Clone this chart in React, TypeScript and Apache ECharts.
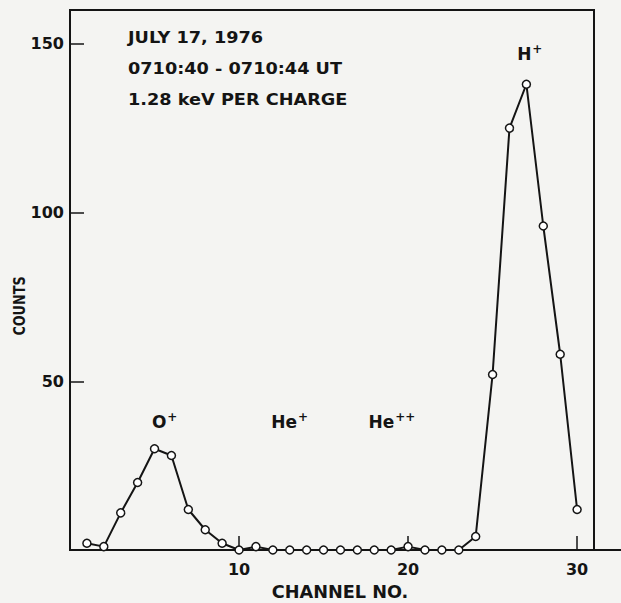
import React, { useEffect, useRef } from "react";
import * as echarts from "echarts";

const channels = [1, 2, 3, 4, 5, 6, 7, 8, 9, 10, 11, 12, 13, 14, 15, 16, 17, 18, 19, 20, 21, 22, 23, 24, 25, 26, 27, 28, 29, 30];
const counts = [2, 1, 11, 20, 30, 28, 12, 6, 2, 0, 1, 0, 0, 0, 0, 0, 0, 0, 0, 1, 0, 0, 0, 4, 52, 125, 138, 96, 58, 12];

const ionBase = ["O", "He", "He", "H"];
const ionCharge = ["+", "+", "++", "+"];
const ionChannel = [5.6, 13.0, 19.05, 27.2];
const ionCount = [38, 38, 38, 147];

const infoLines = ["JULY 17, 1976", "0710:40 - 0710:44 UT", "1.28 keV PER CHARGE"];
const xTickValues = [10, 20, 30];
const yTickValues = [50, 100, 150];

const FONT = "DejaVu Sans";
const INK = "#141414";

export default function App() {
  const ref = useRef<HTMLDivElement>(null);

  useEffect(() => {
    if (!ref.current) return;
    const chart = echarts.init(ref.current, undefined, { renderer: "svg" });

    const lineData = channels.map((c, i) => [c, counts[i]]);
    const labelData = ionBase.map((n, i) => ({
      name: `{b|${n}}{s|${ionCharge[i]}}`,
      value: [ionChannel[i], ionCount[i]],
    }));

    chart.setOption({
      animation: false,
      backgroundColor: "#f4f4f2",
      grid: {
        left: 70,
        right: 27,
        top: 10,
        bottom: 53,
        show: true,
        borderColor: INK,
        borderWidth: 2,
        backgroundColor: "transparent",
      },
      xAxis: {
        type: "value",
        min: 0,
        max: 31,
        interval: 10,
        splitLine: { show: false },
        axisLine: { show: true, lineStyle: { color: INK, width: 2 } },
        axisTick: { show: true, inside: true, length: 14, lineStyle: { color: INK, width: 1.5 } },
        axisLabel: {
          show: true,
          margin: 11,
          fontFamily: FONT,
          fontWeight: "bold",
          fontSize: 16,
          color: INK,
          formatter: (v: number) => (xTickValues.includes(v) ? String(v) : ""),
        },
      },
      yAxis: {
        type: "value",
        min: 0,
        max: 160,
        interval: 50,
        splitLine: { show: false },
        axisLine: { show: true, lineStyle: { color: INK, width: 2 } },
        axisTick: { show: true, inside: true, length: 14, lineStyle: { color: INK, width: 1.5 } },
        axisLabel: {
          show: true,
          margin: 6,
          fontFamily: FONT,
          fontWeight: "bold",
          fontSize: 16,
          color: INK,
          formatter: (v: number) => (yTickValues.includes(v) ? String(v) : ""),
        },
      },
      graphic: [
        ...infoLines.map((t, i) => ({
          type: "text",
          x: 128,
          y: [38, 69, 100][i],
          scaleX: 1.18,
          silent: true,
          style: {
            text: t,
            fontFamily: FONT,
            fontWeight: "bold",
            fontSize: 15,
            fill: INK,
            align: "left",
            verticalAlign: "middle",
          },
        })),
        {
          type: "text",
          x: 19,
          y: 306,
          rotation: Math.PI / 2,
          scaleX: 0.8,
          silent: true,
          style: {
            text: "COUNTS",
            fontFamily: FONT,
            fontWeight: "bold",
            fontSize: 16,
            fill: INK,
            align: "center",
            verticalAlign: "middle",
          },
        },
        {
          type: "text",
          x: 340,
          y: 592,
          scaleX: 1.04,
          silent: true,
          style: {
            text: "CHANNEL NO.",
            fontFamily: FONT,
            fontWeight: "bold",
            fontSize: 17,
            fill: INK,
            align: "center",
            verticalAlign: "middle",
          },
        },
        {
          type: "line",
          silent: true,
          shape: { x1: 594, y1: 550, x2: 621, y2: 550 },
          style: { stroke: INK, lineWidth: 2 },
        },
      ],
      series: [
        {
          type: "line",
          data: lineData,
          symbol: "circle",
          symbolSize: 8,
          showAllSymbol: true,
          lineStyle: { color: INK, width: 2 },
          itemStyle: { color: "#ffffff", borderColor: INK, borderWidth: 1.5 },
          silent: true,
          z: 3,
        },
        {
          type: "scatter",
          data: labelData,
          symbolSize: 1,
          itemStyle: { color: "rgba(0,0,0,0)", opacity: 1 },
          silent: true,
          label: {
            show: true,
            position: "inside",
            formatter: "{b}",
            color: INK,
            opacity: 1,
            rich: {
              b: { fontFamily: FONT, fontWeight: "bold", fontSize: 17, color: INK, opacity: 1 },
              s: { fontFamily: FONT, fontWeight: "bold", fontSize: 12, color: INK, opacity: 1, padding: [0, 0, 10, 1] },
            },
          },
          z: 4,
        },
      ],
    });

    return () => chart.dispose();
  }, []);

  return (
    <div
      ref={ref}
      style={{ position: "absolute", left: 0, top: 0, width: 621, height: 603 }}
    />
  );
}
